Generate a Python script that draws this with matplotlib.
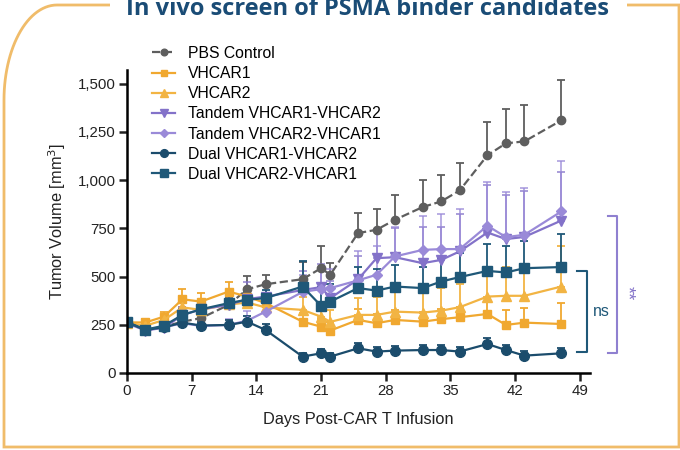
import numpy as np
import matplotlib
matplotlib.use("Agg")
from matplotlib import pyplot as plt
from matplotlib.path import Path
from matplotlib.patches import PathPatch
from matplotlib.lines import Line2D
from matplotlib.ticker import FuncFormatter

plt.rcParams['font.family'] = ['Liberation Sans', 'DejaVu Sans']

# Days post infusion at which tumours were measured
days = [0, 2, 4, 6, 8, 11, 13, 15, 19, 21, 22, 25, 27, 29, 32, 34, 36, 39, 41, 43, 47]

# Mean tumour volume (mm3) per group
pbs = [260, 223, 240, 266, 284, 353, 434, 460, 486, 543, 509, 725, 742, 794, 860, 889, 946, 1128, 1190, 1200, 1309]
vhcar1 = [262, 262, 292, 382, 370, 422, 396, 362, 266, 240, 220, 275, 258, 275, 266, 279, 289, 306, 249, 261, 254]
vhcar2 = [260, 245, 275, 340, 327, 355, 365, 340, 327, 292, 265, 301, 301, 318, 313, 323, 341, 396, 400, 400, 448]
tandem12 = [258, 220, 235, 300, 330, 353, 383, 396, 430, 445, 388, 485, 595, 600, 569, 586, 630, 728, 694, 705, 790]
tandem21 = [262, 223, 237, 258, 244, 249, 271, 318, 420, 435, 440, 480, 509, 604, 638, 642, 642, 763, 704, 716, 837]
dual12 = [262, 223, 237, 261, 246, 249, 266, 223, 85, 102, 85, 128, 111, 116, 119, 119, 111, 150, 119, 90, 102]
dual21 = [264, 225, 245, 301, 330, 362, 380, 388, 448, 348, 370, 440, 427, 448, 440, 474, 497, 529, 521, 543, 549]

# Upper SEM
pbs_err = [15, 15, 20, 25, 30, 40, 70, 50, 90, 113, 60, 104, 108, 130, 138, 139, 142, 170, 180, 190, 210]
vhcar1_err = [15, 20, 25, 52, 45, 49, 45, 50, 45, 40, 45, 55, 50, 50, 50, 55, 55, 60, 80, 75, 108]
vhcar2_err = [15, 20, 25, 60, 50, 55, 60, 55, 65, 70, 60, 90, 95, 100, 110, 115, 120, 150, 150, 150, 211]
tandem12_err = [15, 15, 20, 40, 40, 60, 90, 70, 100, 120, 90, 120, 150, 150, 187, 170, 195, 248, 230, 240, 250]
tandem21_err = [15, 15, 20, 25, 25, 30, 50, 60, 90, 110, 100, 150, 150, 150, 177, 183, 208, 225, 232, 240, 260]
dual12_err = [15, 15, 15, 20, 20, 25, 30, 30, 20, 20, 20, 30, 25, 25, 25, 25, 25, 30, 25, 25, 25]
dual21_err = [15, 15, 20, 30, 30, 35, 40, 40, 130, 100, 90, 110, 110, 110, 110, 120, 125, 140, 135, 140, 172]

groups = [
    ("PBS Control", pbs, pbs_err, "#5e5e5e", "o", "--", 6),
    ("VHCAR1", vhcar1, vhcar1_err, "#f0a830", "s", "-", 6),
    ("VHCAR2", vhcar2, vhcar2_err, "#f2b443", "^", "-", 6.5),
    ("Tandem VHCAR1-VHCAR2", tandem12, tandem12_err, "#8372c9", "v", "-", 6.5),
    ("Tandem VHCAR2-VHCAR1", tandem21, tandem21_err, "#9a8ad8", "D", "-", 5),
    ("Dual VHCAR1-VHCAR2", dual12, dual12_err, "#1b4c6c", "o", "-", 7),
    ("Dual VHCAR2-VHCAR1", dual21, dual21_err, "#1f5878", "s", "-", 6.5),
]

fig = plt.figure(figsize=(6.8, 4.5), dpi=100)

# slide frame with the title breaking the top line
frame = fig.add_axes([0, 0, 1, 1])
frame.set_xlim(0, 680)
frame.set_ylim(450, 0)
frame.axis("off")
t = np.linspace(np.pi, 1.5 * np.pi, 30)
arc_x = 57 + 53 * np.cos(t)
arc_y = 100 + 95 * np.sin(t)
verts = [(110, 5)] + list(zip(arc_x[::-1], arc_y[::-1])) + [(4, 447), (679, 447), (679, 5), (627, 5)]
frame.add_patch(PathPatch(Path(verts), fill=False, edgecolor="#f0bc6a", lw=2))
frame.text(367, 15, "In vivo screen of PSMA binder candidates", ha="center", va="baseline",
           fontsize=17, fontweight="bold", color="#1a4c76", family=["Open Sans", "DejaVu Sans"])

ax = fig.add_axes([127 / 680, 77 / 450, 463 / 680, 303 / 450])
ax.patch.set_alpha(0)

handles = []
for label, vals, err, color, marker, ls, ms in groups:
    h = ax.errorbar(days, vals, yerr=[np.zeros(len(err)), err], color=color, ecolor=color,
                    elinewidth=1.3, capsize=3, capthick=1.3, marker=marker, markersize=ms,
                    linestyle=ls, linewidth=1.6)
    if label.startswith("Tandem"):
        for art in list(h[1]) + list(h[2]):
            art.set_alpha(0.75)
    handles.append(Line2D([], [], color=color, marker=marker, markersize=ms * 0.8,
                          linestyle=ls, linewidth=1.6, label=label))

ax.set_xlim(0, 50.1)
ax.set_ylim(0, 1570)
ax.set_xticks(range(0, 50, 7))
ax.set_yticks(range(0, 1501, 250))
ax.yaxis.set_major_formatter(FuncFormatter(lambda v, p: f"{int(v):,}"))
for side in ("top", "right"):
    ax.spines[side].set_visible(False)
for side in ("left", "bottom"):
    ax.spines[side].set_linewidth(1.8)
ax.tick_params(direction="out", length=6, width=1.8, labelsize=10.8, colors="#222222", pad=2)
ax.set_xlabel("Days Post-CAR T Infusion", fontsize=11.8, color="#222222", labelpad=10)
ax.set_ylabel("Tumor Volume [mm$^3$]", fontsize=11.8, color="#222222", labelpad=7)

# significance brackets
ax.plot([48.7, 49.8, 49.8, 48.7], [530, 530, 108, 108], color="#1f5878", lw=1.5, clip_on=False)
ax.text(51.3, 317, "ns", ha="center", va="center", fontsize=11.5, color="#1f5878", clip_on=False)
ax.plot([52.0, 53.0, 53.0, 52.0], [815, 815, 105, 105], color="#8f80d0", lw=1.5, clip_on=False)
ax.text(54.1, 415, "**", ha="center", va="center", fontsize=13, color="#8372c9",
        rotation=-90, clip_on=False)

fig.legend(handles=handles, loc="upper left", bbox_to_anchor=(144 / 680, 1 - 38 / 450),
           frameon=False, fontsize=11.3, handlelength=1.5, handletextpad=0.8,
           labelspacing=0.33, borderpad=0)

fig.savefig("out.png", dpi=100)
